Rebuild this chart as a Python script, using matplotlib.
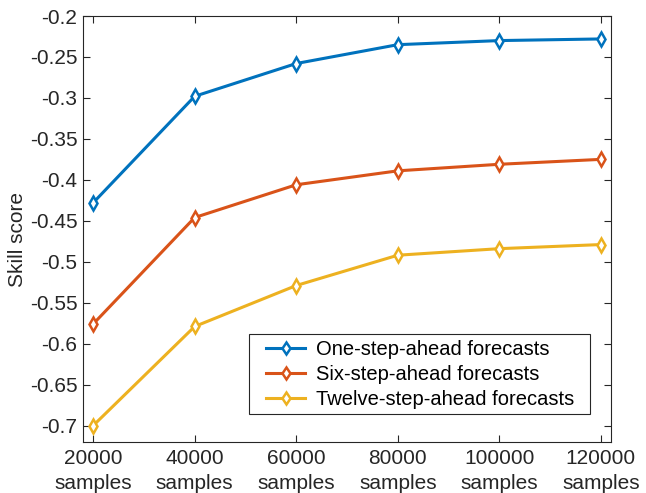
import matplotlib
matplotlib.use("Agg")
import matplotlib.pyplot as plt
from matplotlib.patches import Rectangle

samples = [20000, 40000, 60000, 80000, 100000, 120000]
xtick_labels = ["20000\nsamples", "40000\nsamples", "60000\nsamples",
                "80000\nsamples", "100000\nsamples", "120000\nsamples"]
one_step = [-0.428, -0.298, -0.258, -0.235, -0.230, -0.228]
six_step = [-0.576, -0.446, -0.406, -0.389, -0.381, -0.375]
twelve_step = [-0.700, -0.579, -0.529, -0.492, -0.484, -0.479]
series_names = ["One-step-ahead forecasts", "Six-step-ahead forecasts",
                "Twelve-step-ahead forecasts"]
yticks = [-0.7, -0.65, -0.6, -0.55, -0.5, -0.45, -0.4, -0.35, -0.3, -0.25, -0.2]
ytick_labels = ["-0.7", "-0.65", "-0.6", "-0.55", "-0.5", "-0.45", "-0.4",
                "-0.35", "-0.3", "-0.25", "-0.2"]

plt.rcParams['font.family'] = ['Liberation Sans', 'DejaVu Sans']
dark = '#262626'
W, H = 646, 493

fig = plt.figure(figsize=(W / 100, H / 100), dpi=100)
ax = fig.add_axes([83 / W, 1 - 442 / H, 528 / W, 426 / H])

colors = ['#0072BD', '#D95319', '#EDB120']
for vals, name, c in zip([one_step, six_step, twelve_step], series_names, colors):
    ax.plot(samples, vals, color=c, lw=2.2, marker='d', markersize=7.5,
            markerfacecolor='white', markeredgecolor=c, markeredgewidth=1.8,
            label=name)

ax.set_xlim(18000, 122000)
ax.set_ylim(-0.72, -0.2)
ax.set_xticks(samples)
ax.set_xticklabels(xtick_labels, linespacing=1.4)
ax.set_yticks(yticks)
ax.set_yticklabels(ytick_labels)
ax.tick_params(direction='in', top=True, right=True, length=5, width=0.8,
               colors=dark, labelsize=15, pad=4)
ax.tick_params(axis='x', pad=5)
for s in ax.spines.values():
    s.set_color(dark)
    s.set_linewidth(0.8)
ax.set_ylabel("Skill score", fontsize=15, color=dark)
ax.yaxis.set_label_coords(-0.106, 0.4765)

# legend frame (MATLAB-style wide padding)
rect = Rectangle((249 / W, 1 - 414 / H), 341 / W, 80 / H, transform=fig.transFigure,
                 facecolor='white', edgecolor=dark, linewidth=0.8, zorder=4,
                 clip_on=False)
ax.add_patch(rect)
leg = ax.legend(loc='upper left', bbox_to_anchor=(266 / W, 1 - 340 / H),
                bbox_transform=fig.transFigure, fontsize=14.5, frameon=False,
                handlelength=1.95, borderpad=0, labelspacing=0.3,
                handletextpad=0.55, borderaxespad=0, markerscale=0.85)
leg.set_zorder(5)

fig.savefig("out.png", dpi=100)
